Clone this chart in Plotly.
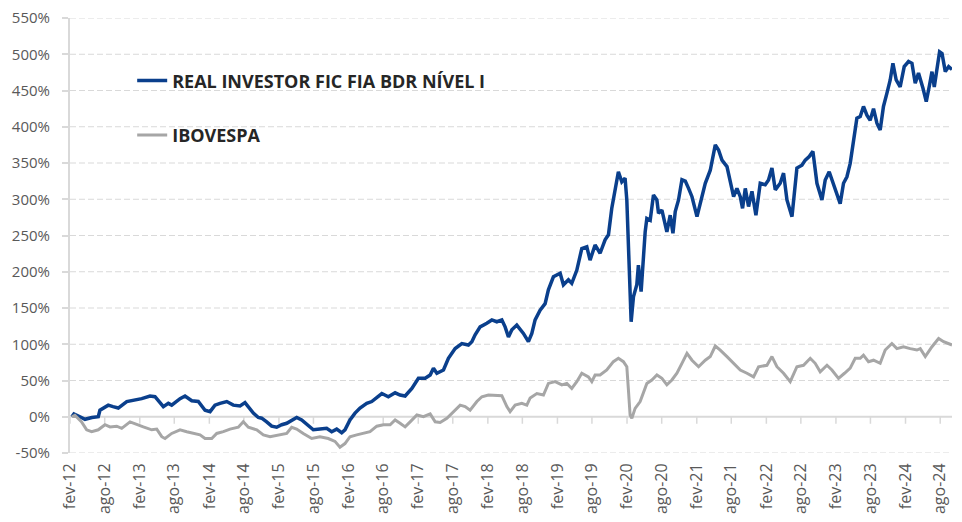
import pandas as pd
import plotly.graph_objects as go

# ---- data (dates as decimal years, values in %) ----
fund_t = [2012.112, 2012.141, 2012.227, 2012.299, 2012.399, 2012.490, 2012.514, 2012.633, 2012.701, 2012.777,
          2012.898, 2013.017, 2013.113, 2013.232, 2013.304, 2013.424, 2013.495, 2013.544, 2013.664, 2013.735,
          2013.832, 2013.926, 2014.023, 2014.095, 2014.166, 2014.238, 2014.335, 2014.429, 2014.526, 2014.597,
          2014.645, 2014.717, 2014.789, 2014.837, 2014.909, 2014.981, 2015.053, 2015.125, 2015.197, 2015.268,
          2015.340, 2015.412, 2015.484, 2015.579, 2015.675, 2015.771, 2015.843, 2015.915, 2015.987, 2016.034,
          2016.106, 2016.178, 2016.250, 2016.346, 2016.418, 2016.465, 2016.562, 2016.656, 2016.753, 2016.824,
          2016.896, 2016.993, 2017.087, 2017.184, 2017.256, 2017.303, 2017.352, 2017.447, 2017.518, 2017.615,
          2017.711, 2017.806, 2017.855, 2017.902, 2017.974, 2018.070, 2018.142, 2018.214, 2018.286, 2018.333,
          2018.381, 2018.430, 2018.501, 2018.596, 2018.668, 2018.717, 2018.764, 2018.836, 2018.908, 2018.955,
          2019.027, 2019.124, 2019.171, 2019.243, 2019.291, 2019.363, 2019.435, 2019.507, 2019.554, 2019.626,
          2019.698, 2019.770, 2019.818, 2019.866, 2019.914, 2019.961, 2020.010, 2020.057, 2020.082, 2020.105,
          2020.129, 2020.144, 2020.177, 2020.225, 2020.248, 2020.287, 2020.345, 2020.369, 2020.417, 2020.464,
          2020.513, 2020.536, 2020.585, 2020.656, 2020.704, 2020.743, 2020.776, 2020.823, 2020.872, 2020.920,
          2020.967, 2021.016, 2021.088, 2021.135, 2021.207, 2021.279, 2021.351, 2021.398, 2021.447, 2021.519,
          2021.566, 2021.614, 2021.662, 2021.710, 2021.743, 2021.782, 2021.829, 2021.878, 2021.935, 2021.997,
          2022.069, 2022.116, 2022.165, 2022.213, 2022.284, 2022.332, 2022.381, 2022.453, 2022.524, 2022.596,
          2022.644, 2022.701, 2022.754, 2022.812, 2022.884, 2022.931, 2022.988, 2023.050, 2023.122, 2023.146,
          2023.194, 2023.243, 2023.290, 2023.337, 2023.386, 2023.434, 2023.481, 2023.530, 2023.577, 2023.625,
          2023.674, 2023.721, 2023.768, 2023.817, 2023.865, 2023.904, 2023.951, 2024.008, 2024.066, 2024.128,
          2024.177, 2024.224, 2024.271, 2024.335, 2024.382, 2024.429, 2024.464, 2024.497, 2024.536, 2024.573,
          2024.608, 2024.655, 2024.703, 2024.751]
fund_v = [0, 4, 0, -3.5, -1, 0, 9, 16, 14, 12,
          21, 23, 25, 28.6, 27.6, 14, 18.5, 16, 25, 28.6,
          22, 21, 9, 7, 16, 18.5, 21, 16, 15, 19.5,
          14, 5, -1, -2, -7, -13, -14.5, -11, -9, -4.5,
          -1, -4.5, -11, -18, -17, -16, -20.6, -17, -22, -18,
          -4.5, 5, 12, 18.5, 21, 25, 32, 27.6, 33, 30,
          28.6, 39, 53, 53, 57.6, 67, 60, 64.5, 80.6, 94,
          101, 99, 103.5, 113, 124, 129, 133.5, 131, 133.5, 124,
          110, 120, 126.5, 115, 103.5, 115, 133.5, 147, 156, 175,
          193, 198, 182, 189, 184, 202, 232, 234.5, 216, 237,
          225.5, 244, 251, 287.5, 313, 338, 324, 329, 299, 244,
          179, 131, 165.5, 182, 209, 172.5, 255, 273.5, 271, 306,
          299, 280.6, 285, 255, 278, 253, 283, 299, 327, 325,
          315, 303.5, 276, 294, 322, 340, 375, 368, 354, 345,
          326.6, 303.5, 315, 303.5, 287.5, 315, 290, 311, 278, 322,
          320, 326.6, 343, 313, 322, 336, 299, 276, 343, 347,
          354, 359, 366, 322, 299, 326.6, 338, 320, 299, 294,
          322, 331, 349.6, 377, 411.7, 414, 428, 416, 409, 425,
          405, 395.5, 428, 446, 464.5, 487.5, 464.5, 455, 483, 490,
          487.5, 460, 474, 453, 434.6, 457.6, 476, 455, 478, 503.4,
          501, 476, 483, 479]

ibov_t = [2012.112, 2012.155, 2012.251, 2012.323, 2012.395, 2012.490, 2012.586, 2012.658, 2012.754, 2012.826,
          2012.945, 2013.041, 2013.136, 2013.257, 2013.329, 2013.401, 2013.448, 2013.544, 2013.664, 2013.760,
          2013.855, 2013.951, 2014.023, 2014.119, 2014.191, 2014.286, 2014.382, 2014.501, 2014.573, 2014.645,
          2014.766, 2014.861, 2014.957, 2015.076, 2015.197, 2015.268, 2015.340, 2015.435, 2015.556, 2015.675,
          2015.794, 2015.891, 2015.962, 2016.034, 2016.106, 2016.202, 2016.297, 2016.393, 2016.490, 2016.585,
          2016.681, 2016.753, 2016.824, 2016.896, 2016.968, 2017.065, 2017.159, 2017.256, 2017.328, 2017.399,
          2017.496, 2017.591, 2017.687, 2017.759, 2017.830, 2017.927, 2017.999, 2018.093, 2018.190, 2018.286,
          2018.358, 2018.405, 2018.477, 2018.573, 2018.645, 2018.693, 2018.789, 2018.884, 2018.955, 2019.052,
          2019.148, 2019.220, 2019.291, 2019.363, 2019.435, 2019.530, 2019.579, 2019.626, 2019.698, 2019.794,
          2019.889, 2019.961, 2020.033, 2020.082, 2020.105, 2020.129, 2020.154, 2020.201, 2020.273, 2020.320,
          2020.369, 2020.441, 2020.513, 2020.585, 2020.656, 2020.728, 2020.800, 2020.872, 2020.944, 2021.016,
          2021.111, 2021.207, 2021.279, 2021.351, 2021.422, 2021.519, 2021.614, 2021.710, 2021.806, 2021.901,
          2021.973, 2022.093, 2022.165, 2022.237, 2022.332, 2022.428, 2022.524, 2022.619, 2022.716, 2022.787,
          2022.859, 2022.956, 2023.027, 2023.122, 2023.208, 2023.290, 2023.362, 2023.434, 2023.481, 2023.553,
          2023.625, 2023.721, 2023.793, 2023.889, 2023.961, 2024.056, 2024.152, 2024.248, 2024.296, 2024.368,
          2024.464, 2024.559, 2024.631, 2024.751]
ibov_v = [0, 2, -7, -18, -20.6, -18, -11, -14, -13, -16,
          -7, -11, -14, -18, -17, -27.5, -30, -23, -18, -20.6,
          -23, -25, -30, -30, -23, -20.6, -17, -14.5, -7, -14.5,
          -18, -25, -27.5, -25, -23, -14.5, -17, -23, -30, -27.5,
          -30, -34, -42, -37, -27.5, -25, -23, -20.6, -13, -11,
          -11, -4.5, -9, -14, -7, 2.4, 0, 4, -7, -8,
          -2, 7, 16, 14, 9, 21, 27.6, 30, 30, 29,
          14, 7, 16, 18.5, 16, 26, 32, 30, 46, 48.4,
          44, 46, 39, 48.4, 60, 55, 48.4, 57.6, 57.6, 64.5,
          76, 80.6, 76, 69, 37, 2.4, -2, 11.6, 21, 32,
          46, 50.7, 57.6, 53, 44, 50.7, 60, 73.7, 87.5, 78,
          69, 78, 83, 97.6, 92, 83, 73.7, 64.5, 60, 55,
          69, 71, 83, 69, 60, 48.4, 69, 71, 80.6, 73.7,
          62, 71, 64.5, 53, 60, 67, 80.6, 80.6, 85, 76,
          78, 73.7, 92, 101, 94, 96.6, 94, 92, 94, 83,
          96.6, 108, 103.5, 99]

tick_dates = ["2012-02-01", "2012-08-01", "2013-02-01", "2013-08-01", "2014-02-01", "2014-08-01",
              "2015-02-01", "2015-08-01", "2016-02-01", "2016-08-01", "2017-02-01", "2017-08-01",
              "2018-02-01", "2018-08-01", "2019-02-01", "2019-08-01", "2020-02-01", "2020-08-01",
              "2021-02-01", "2021-08-01", "2022-02-01", "2022-08-01", "2023-02-01", "2023-08-01",
              "2024-02-01", "2024-08-01"]
tick_labels = ["fev-12", "ago-12", "fev-13", "ago-13", "fev-14", "ago-14", "fev-15", "ago-15",
               "fev-16", "ago-16", "fev-17", "ago-17", "fev-18", "ago-18", "fev-19", "ago-19",
               "fev-20", "ago-20", "fev-21", "ago-21", "fev-22", "ago-22", "fev-23", "ago-23",
               "fev-24", "ago-24"]
y_ticks = [-50, 0, 50, 100, 150, 200, 250, 300, 350, 400, 450, 500, 550]
y_tick_text = [f"{v}%" for v in y_ticks]

series_names = ["REAL INVESTOR FIC FIA BDR NÍVEL I", "IBOVESPA"]


def dec_to_dt(t):
    y = int(t)
    a = pd.Timestamp(y, 1, 1)
    b = pd.Timestamp(y + 1, 1, 1)
    return a + (b - a) * (t - y)


fund_x = [dec_to_dt(t) for t in fund_t]
ibov_x = [dec_to_dt(t) for t in ibov_t]

FONT = "Open Sans"
GRID = "#d9d9d9"
TXT = "#595959"

xr = [pd.Timestamp("2012-02-01"), fund_x[-1]]
y_lo, y_hi = y_ticks[0], y_ticks[-1]

W, H = 954, 514          # page body has an 8px margin; keep the figure inside the window
ML, MT, MB = 62, 10, 69
plot_w = 882
plot_h = H - MT - MB
MR = W - ML - plot_w
tick_len_units = 7 * (y_hi - y_lo) / plot_h

fig = go.Figure()

# dashed horizontal gridlines (every y tick except the 0% axis line)
gx, gy = [], []
for v in y_ticks:
    if v == 0:
        continue
    gx += [xr[0], xr[1], None]
    gy += [v, v, None]
fig.add_trace(go.Scatter(x=gx, y=gy, mode="lines", line=dict(color=GRID, width=1.2, dash="6px,3px"),
                         hoverinfo="skip", showlegend=False))

# solid 0% axis line with small tick marks hanging below it
fig.add_trace(go.Scatter(x=[xr[0], xr[1]], y=[0, 0], mode="lines", line=dict(color=GRID, width=2),
                         hoverinfo="skip", showlegend=False))
tx, ty = [], []
for d in tick_dates:
    tx += [d, d, None]
    ty += [0, -tick_len_units, None]
fig.add_trace(go.Scatter(x=tx, y=ty, mode="lines", line=dict(color=GRID, width=1.5),
                         hoverinfo="skip", showlegend=False))

fig.add_trace(go.Scatter(x=fund_x, y=fund_v, mode="lines", name=series_names[0],
                         line=dict(color="#0a3f8c", width=3.5), legendgroup="a"))
fig.add_trace(go.Scatter(x=ibov_x, y=ibov_v, mode="lines", name=series_names[1],
                         line=dict(color="#a6a6a6", width=3), legendgroup="b"))

fig.update_layout(
    template="none",
    width=W, height=H,
    margin=dict(l=ML, r=MR, t=MT, b=MB, autoexpand=False),
    paper_bgcolor="white", plot_bgcolor="rgba(0,0,0,0)",
    font=dict(family=FONT, color=TXT),
    showlegend=True,
    legend=dict(x=0.0705, y=0.898, xanchor="left", yanchor="top",
                font=dict(family=FONT, size=18, color="#262626", weight="bold"),
                tracegroupgap=28, bgcolor="rgba(0,0,0,0)", borderwidth=0),
    xaxis=dict(type="date", range=xr, tickvals=tick_dates, ticktext=tick_labels,
               tickangle=-90, tickfont=dict(size=16, color=TXT), showgrid=False,
               showline=False, zeroline=False, ticks="outside", ticklen=3,
               tickcolor="rgba(0,0,0,0)", automargin=False),
    yaxis=dict(range=[y_lo, y_hi], tickvals=y_ticks, ticktext=y_tick_text,
               tickfont=dict(size=15, color=TXT), showgrid=False,
               zeroline=False, showline=True,
               linecolor=GRID, linewidth=2, ticks="outside", ticklen=6,
               tickcolor=GRID, tickwidth=1.5, automargin=False,
               ticklabeloverflow="allow", ticklabelstandoff=9),
)

fig.write_html("out.html")
